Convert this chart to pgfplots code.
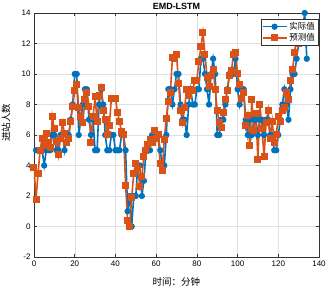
\documentclass[border=0pt]{standalone}
\usepackage{fontspec}
\setmainfont{Liberation Sans}
\newfontfamily\cjk{Noto Sans CJK SC}
\usepackage{pgfplots}
\usepackage{pgfplotstable}
\pgfplotsset{compat=1.18}
\definecolor{mblue}{rgb}{0,0.447,0.741}
\definecolor{morange}{rgb}{0.851,0.325,0.098}
\pgfplotstableread{
x y
1 5
2 5
3 5
4 5
5 4
6 5
7 5
8 5
9 6
10 6
11 5
12 5
13 6
14 6
15 5
16 6
17 6
18 7
19 8
20 10
21 10
22 6
23 7
24 8
25 9
26 9
27 7
28 6
29 7
30 5
31 5
32 8
33 9
34 8
35 6
36 5
37 5
38 6
39 6
40 5
41 5
42 5
43 6
44 6
45 5
46 1
47 2
48 0
49 2
50 2
51 4
52 4
53 2
54 3
55 5
56 5
57 5
58 6
59 6
60 6
61 6
62 5
63 4
64 4
65 6
66 9
67 9
68 8
69 9
70 10
71 10
72 8
73 7
74 7
75 6
76 8
77 9
78 8
79 8
80 9
81 9
82 11
83 11
84 10
85 9
86 8
87 10
88 11
89 10
90 6
91 6
92 7
93 7
94 8
95 9
96 10
97 10
98 10
99 11
100 9
101 8
102 9
103 9
104 7
105 6
106 7
107 6
108 7
109 7
110 6
111 7
112 7
113 6
114 7
115 7
116 6
117 6
118 5
119 5
120 6
121 7
122 8
123 9
124 8
125 7
126 9
127 10
128 10
129 11
130 12
131 12
132 13
133 14
134 11
}\actual
\pgfplotstableread{
x y
0 3.9
1 1.8
2 3.5
3 5.0
4 5.8
5 5.3
6 6.1
7 5.5
8 5.2
9 7.2
10 6.4
11 5.6
12 4.7
13 5.8
14 6.8
15 6.1
16 5.5
17 5.8
18 6.9
19 7.9
20 8.9
21 9.3
22 7.8
23 7.2
24 6.8
25 8.3
26 8.8
27 7.9
28 5.5
29 7.2
30 8.5
31 6.9
32 8.6
33 9.1
34 7.6
35 7.0
36 6.0
37 6.6
38 8.4
39 8.4
40 8.4
41 7.5
42 6.9
43 6.2
44 6.0
45 2.7
46 0.4
47 0.0
48 1.9
49 3.5
50 4.1
51 3.8
52 2.6
53 3.3
54 4.6
55 5.0
56 5.4
57 5.7
58 5.5
59 6.3
60 5.8
61 6.0
62 4.1
63 3.7
64 5.7
65 7.1
66 8.2
67 8.8
68 11.1
69 11.0
70 11.3
71 9.4
72 7.6
73 6.8
74 7.8
75 9.0
76 8.6
77 9.0
78 8.9
79 9.6
80 9.6
81 10.8
82 11.8
83 12.7
84 11.3
85 9.8
86 9.2
87 9.9
88 10.3
89 9.0
90 7.6
91 6.8
92 6.5
93 7.5
94 8.3
95 8.9
96 9.9
97 10.2
98 11.3
99 11.4
100 10.0
101 9.3
102 8.4
103 8.8
104 6.6
105 7.3
106 5.3
107 8.3
108 6.3
109 7.4
110 4.4
111 8.0
112 6.4
113 4.6
114 6.8
115 7.6
116 5.8
117 6.9
118 5.5
119 6.0
120 7.2
121 6.9
122 7.6
123 7.8
124 8.8
125 8.3
126 9.6
127 10.3
128 11.4
129 12.5
130 12.0
131 12.6
}\predicted
\begin{document}
\begin{tikzpicture}[x=1pt,y=1pt]
\useasboundingbox (-34,-29) rectangle (296,257);
\begin{axis}[
  at={(0,0)}, anchor=south west,
  scale only axis, width=285pt, height=244pt,
  xmin=0, xmax=140, ymin=-2, ymax=14,
  xtick={0,20,...,140}, ytick={-2,0,...,14},
  grid=major, grid style={black!12, line width=0.4pt},
  axis line style={black!80, line width=0.5pt},
  tick style={black!80, line width=0.5pt},
  tick align=inside, major tick length=2.8pt,
  tick label style={font=\fontsize{8}{10}\selectfont},
  /pgf/number format/assume math mode=true,
  every axis title shift=0pt,
  title={\textbf{EMD-LSTM}},
  title style={font=\fontsize{9}{10}\selectfont, at={(0.5,1)}, anchor=base, inner sep=0pt, yshift=3.7pt},
  xlabel={\cjk 时间：分钟},
  xlabel style={font=\fontsize{9.5}{10}\selectfont, at={(0.5,0)}, anchor=center, yshift=-25pt},
  ylabel={\cjk 进站人数},
  ylabel style={font=\fontsize{9.5}{10}\selectfont, at={(0,0.5)}, anchor=center, yshift=28pt, xshift=12pt},
  legend style={at={(0.997,0.975)}, anchor=north east, draw=black!80, line width=0.5pt,
    font=\cjk\fontsize{8.5}{10}\selectfont, inner sep=1pt, row sep=-1.5pt},
  legend image code/.code={\draw[mark repeat=2,mark phase=2] plot coordinates {(0pt,0pt)(12pt,0pt)(24pt,0pt)};},
]
\addplot[color=mblue, line width=1.6pt, mark=*, mark size=2.3pt, mark options={solid, fill=mblue, draw=mblue}] table {\actual};
\addlegendentry{实际值}
\addplot[color=morange, line width=1.6pt, mark=square*, mark size=2.7pt, mark options={solid, fill=morange, draw=morange}] table {\predicted};
\addlegendentry{预测值}
\end{axis}
\end{tikzpicture}
\end{document}
